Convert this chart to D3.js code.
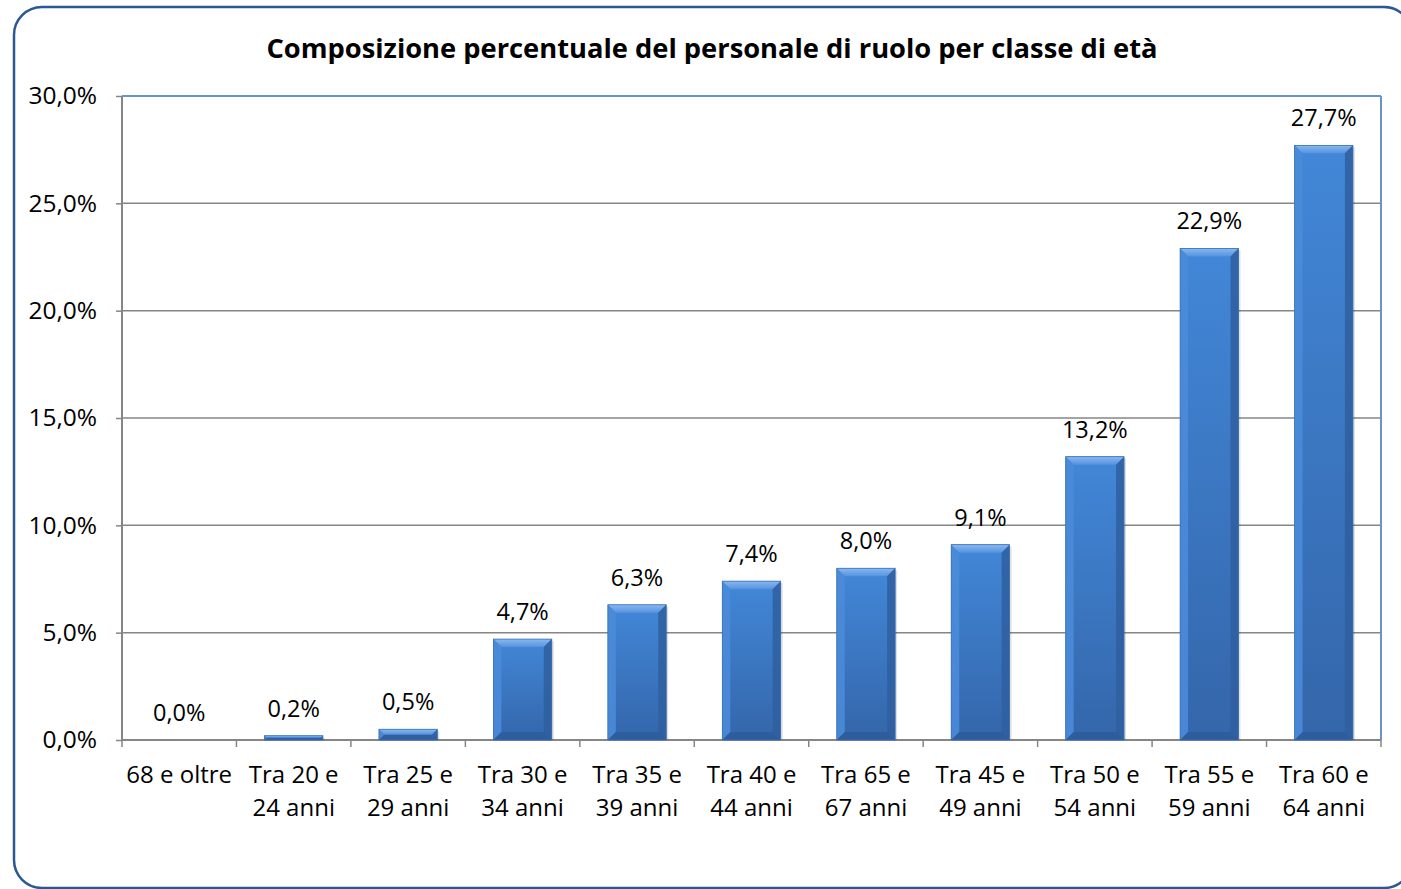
<!DOCTYPE html>
<html><head><meta charset="utf-8">
<script src="https://cdn.jsdelivr.net/npm/d3@7"></script>
<style>body{margin:0;background:#fff;}svg{display:block;font-family:"Open Sans","Noto Sans",sans-serif;}</style>
</head><body>
<svg id="c" width="1401" height="889"></svg>
<script>
const categories = ["68 e oltre","Tra 20 e 24 anni","Tra 25 e 29 anni","Tra 30 e 34 anni","Tra 35 e 39 anni","Tra 40 e 44 anni","Tra 65 e 67 anni","Tra 45 e 49 anni","Tra 50 e 54 anni","Tra 55 e 59 anni","Tra 60 e 64 anni"];
const labelLines = [["68 e oltre"],["Tra 20 e","24 anni"],["Tra 25 e","29 anni"],["Tra 30 e","34 anni"],["Tra 35 e","39 anni"],["Tra 40 e","44 anni"],["Tra 65 e","67 anni"],["Tra 45 e","49 anni"],["Tra 50 e","54 anni"],["Tra 55 e","59 anni"],["Tra 60 e","64 anni"]];
const values = [0.0,0.2,0.5,4.7,6.3,7.4,8.0,9.1,13.2,22.9,27.7];
const yTicks = [0,5,10,15,20,25,30];
const title = "Composizione percentuale del personale di ruolo per classe di età";

const svg = d3.select("#c");
const fmt = v => v.toFixed(1).replace(".", ",") + "%";

// outer rounded frame
svg.append("rect").attr("x",14).attr("y",7).attr("width",1398).attr("height",881)
  .attr("rx",28).attr("fill","#fff").attr("stroke","#2c5795").attr("stroke-width",2.5);

svg.append("text").attr("x",712).attr("y",58).attr("text-anchor","middle")
  .attr("font-size",27.3).attr("font-weight","bold").attr("fill","#000").text(title);

const L=122,R=1381,T=96,B=740;
const x = d3.scaleBand().domain(categories).range([L,R]).paddingInner(0.49).paddingOuter(0.245);
const y = d3.scaleLinear().domain([0,30]).range([B,T]);

// gridlines
svg.append("g").selectAll("line").data(yTicks.filter(d=>d>0)).join("line")
  .attr("x1",L).attr("x2",R).attr("y1",d=>y(d)).attr("y2",d=>y(d))
  .attr("stroke","#868686").attr("stroke-width",1.5);
// plot border top/right
svg.append("line").attr("x1",L).attr("x2",R).attr("y1",T).attr("y2",T).attr("stroke","#6b93c8").attr("stroke-width",2);
svg.append("line").attr("x1",R).attr("x2",R).attr("y1",T).attr("y2",B).attr("stroke","#6b93c8").attr("stroke-width",2);

// y axis
const ya = svg.append("g").attr("transform",`translate(${L},0)`)
  .call(d3.axisLeft(y).tickValues(yTicks).tickSize(6).tickPadding(19).tickFormat(d=>d.toFixed(1).replace(".",",")+"%"));
ya.select(".domain").attr("stroke","#868686").attr("stroke-width",2).attr("d",`M0,${T}V${B}`);
ya.selectAll(".tick line").attr("stroke","#868686").attr("stroke-width",1.5);
ya.selectAll(".tick text").attr("font-size",24.5).attr("fill","#000").attr("font-family","Open Sans");

// x axis
const xa = svg.append("g").attr("transform",`translate(0,${B})`);
xa.append("line").attr("x1",L).attr("x2",R).attr("stroke","#868686").attr("stroke-width",2);
const bounds = d3.range(categories.length+1).map(i=>L + i*(R-L)/categories.length);
xa.selectAll("line.tk").data(bounds).join("line").attr("class","tk")
  .attr("x1",d=>d).attr("x2",d=>d).attr("y1",0).attr("y2",7).attr("stroke","#868686").attr("stroke-width",1.5);
const xl = xa.selectAll("text.lbl").data(categories).join("text").attr("class","lbl")
  .attr("text-anchor","middle").attr("font-size",24).attr("fill","#000")
  .attr("transform",d=>`translate(${x(d)+x.bandwidth()/2},0)`);
xl.each(function(d,i){
  d3.select(this).selectAll("tspan").data(labelLines[i]).join("tspan")
    .attr("x",0).attr("y",(t,j)=>43+j*33).text(t=>t);
});

// gradients
const defs = svg.append("defs");
const g1 = defs.append("linearGradient").attr("id","body").attr("x1",0).attr("y1",0).attr("x2",0).attr("y2",1);
g1.append("stop").attr("offset","0%").attr("stop-color","#4287d8");
g1.append("stop").attr("offset","100%").attr("stop-color","#3466aa");
const gt = defs.append("linearGradient").attr("id","topb").attr("x1",0).attr("y1",0).attr("x2",0).attr("y2",1);
gt.append("stop").attr("offset","0%").attr("stop-color","#8ab8ef");
gt.append("stop").attr("offset","100%").attr("stop-color","#5593e0");

const bars = svg.append("g").selectAll("g").data(values).join("g");
const bev = 8;
bars.each(function(v,i){
  const g = d3.select(this);
  const x0 = x(categories[i]), w = x.bandwidth(), y0 = y(v), h = B - y0;
  if (h <= 0.1) return;
  const b = Math.min(bev, h/2, w/2);
  g.append("rect").attr("x",x0+2).attr("y",y0+2).attr("width",w).attr("height",h-2).attr("fill","rgba(0,0,0,0.12)");
  g.append("rect").attr("x",x0).attr("y",y0).attr("width",w).attr("height",h).attr("fill","url(#body)");
  const x1=x0+w, y1=B;
  g.append("path").attr("d",`M${x0},${y0}L${x1},${y0}L${x1-b},${y0+b}L${x0+b},${y0+b}Z`).attr("fill","url(#topb)");
  g.append("path").attr("d",`M${x0},${y0}L${x0+b},${y0+b}L${x0+b},${y1-b}L${x0},${y1}Z`).attr("fill","#4a8bd9").attr("opacity",0.9);
  g.append("path").attr("d",`M${x1},${y0}L${x1},${y1}L${x1-b},${y1-b}L${x1-b},${y0+b}Z`).attr("fill","#2f5f9f").attr("opacity",0.85);
  g.append("path").attr("d",`M${x0},${y1}L${x0+b},${y1-b}L${x1-b},${y1-b}L${x1},${y1}Z`).attr("fill","#2c5a97").attr("opacity",0.7);
  g.append("rect").attr("x",x0).attr("y",y0).attr("width",w).attr("height",h).attr("fill","none").attr("stroke","#3a6fb5").attr("stroke-width",0.8);
});

// value labels
svg.append("g").selectAll("text").data(values).join("text")
  .attr("x",(v,i)=>x(categories[i])+x.bandwidth()/2)
  .attr("y",v=>y(v)-19)
  .attr("text-anchor","middle").attr("font-size",23.5).attr("fill","#000").text(fmt);
</script>
</body></html>
